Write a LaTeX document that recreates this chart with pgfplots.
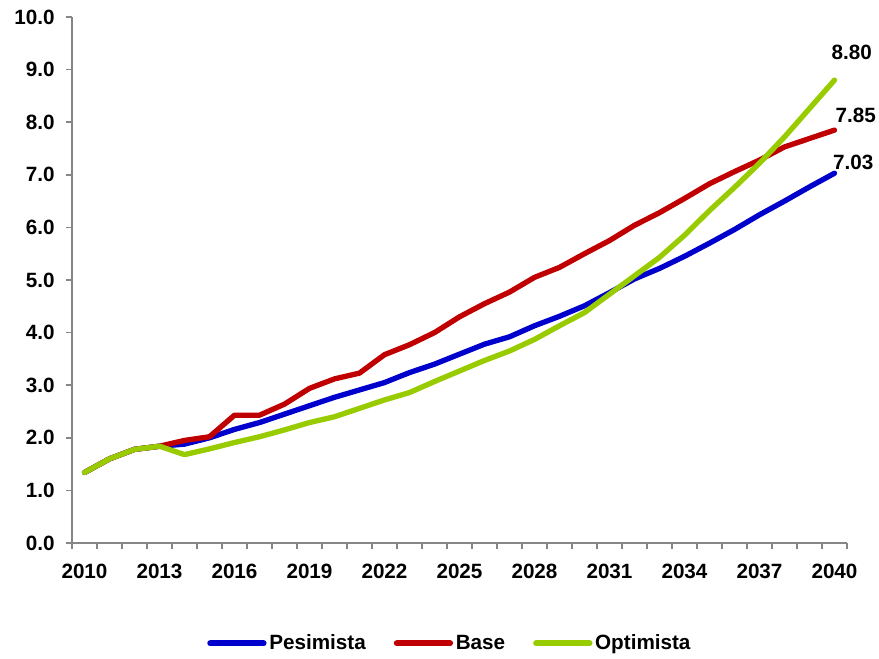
\documentclass[border=0pt]{standalone}
\usepackage{pgfplots}
\pgfplotsset{compat=1.18}
\usepackage{fontspec}
\setmainfont{Liberation Sans}

\definecolor{pesBlue}{RGB}{0,0,204}
\definecolor{baseRed}{RGB}{192,0,0}
\definecolor{optGreen}{RGB}{153,204,0}
\definecolor{axGray}{RGB}{134,134,134}

\pgfplotstableread{
year pes base opt
2010 1.34 1.34 1.34
2011 1.60 1.60 1.60
2012 1.78 1.78 1.78
2013 1.84 1.84 1.84
2014 1.88 1.95 1.68
2015 2.00 2.02 1.79
2016 2.16 2.43 1.91
2017 2.29 2.43 2.02
2018 2.45 2.64 2.15
2019 2.61 2.94 2.29
2020 2.77 3.12 2.40
2021 2.91 3.23 2.56
2022 3.05 3.58 2.72
2023 3.24 3.77 2.86
2024 3.40 4.00 3.07
2025 3.59 4.30 3.27
2026 3.78 4.55 3.47
2027 3.92 4.77 3.65
2028 4.13 5.05 3.87
2029 4.31 5.24 4.13
2030 4.51 5.50 4.38
2031 4.76 5.75 4.73
2032 5.02 6.04 5.08
2033 5.22 6.28 5.43
2034 5.45 6.55 5.85
2035 5.70 6.83 6.32
2036 5.96 7.06 6.76
2037 6.24 7.28 7.22
2038 6.50 7.53 7.72
2039 6.77 7.69 8.26
2040 7.03 7.85 8.80
}\scenarios

\begin{document}
\begin{tikzpicture}[font=\fontsize{15.5}{18}\selectfont\bfseries]
\path[use as bounding box] (-54pt,-86.25pt) rectangle (605.25pt,407.25pt);
\begin{axis}[
  at={(0,0)}, anchor=south west,
  scale only axis,
  width=581.25pt, height=394.5pt,
  xmin=2009.5, xmax=2040.5,
  ymin=0, ymax=10,
  axis lines=left,
  axis line style={-, draw=axGray, line width=1.4pt},
  tick align=outside,
  xtick={2010,2013,...,2040},
  xticklabels={2010,2013,2016,2019,2022,2025,2028,2031,2034,2037,2040},
  minor xtick={2009.5,2010.5,...,2040.5},
  major x tick style={draw=none},
  minor x tick style={draw=axGray, line width=1.2pt},
  minor tick length=4.5pt,
  ytick={0,1,...,10},
  yticklabels={0.0,1.0,2.0,3.0,4.0,5.0,6.0,7.0,8.0,9.0,10.0},
  y tick style={draw=axGray, line width=1.2pt},
  major tick length=4.5pt,
  xticklabel style={yshift=-8pt},
  yticklabel style={xshift=-5pt},
  clip=false,
  legend columns=3,
  legend style={at={(0.488,-0.191)}, anchor=center, draw=none, fill=none,
    inner sep=0pt,
    /tikz/every even column/.append style={column sep=19pt},
    nodes={inner xsep=2pt}},
  legend image code/.code={\draw[#1, line width=4.5pt, line cap=round] (0pt,0pt) -- (40pt,0pt);},
  every axis plot/.append style={line width=4pt, line join=round, line cap=round},
]
\addplot[pesBlue] table[x=year, y=pes] {\scenarios};
\addlegendentry{Pesimista}
\addplot[baseRed] table[x=year, y=base] {\scenarios};
\addlegendentry{Base}
\addplot[optGreen] table[x=year, y=opt] {\scenarios};
\addlegendentry{Optimista}

\node[xshift=13pt, yshift=20.5pt] at (axis cs:2040,8.80) {8.80};
\node[xshift=16pt, yshift=11pt] at (axis cs:2040,7.85) {7.85};
\node[xshift=14pt, yshift=8pt] at (axis cs:2040,7.03) {7.03};
\end{axis}
\end{tikzpicture}
\end{document}
